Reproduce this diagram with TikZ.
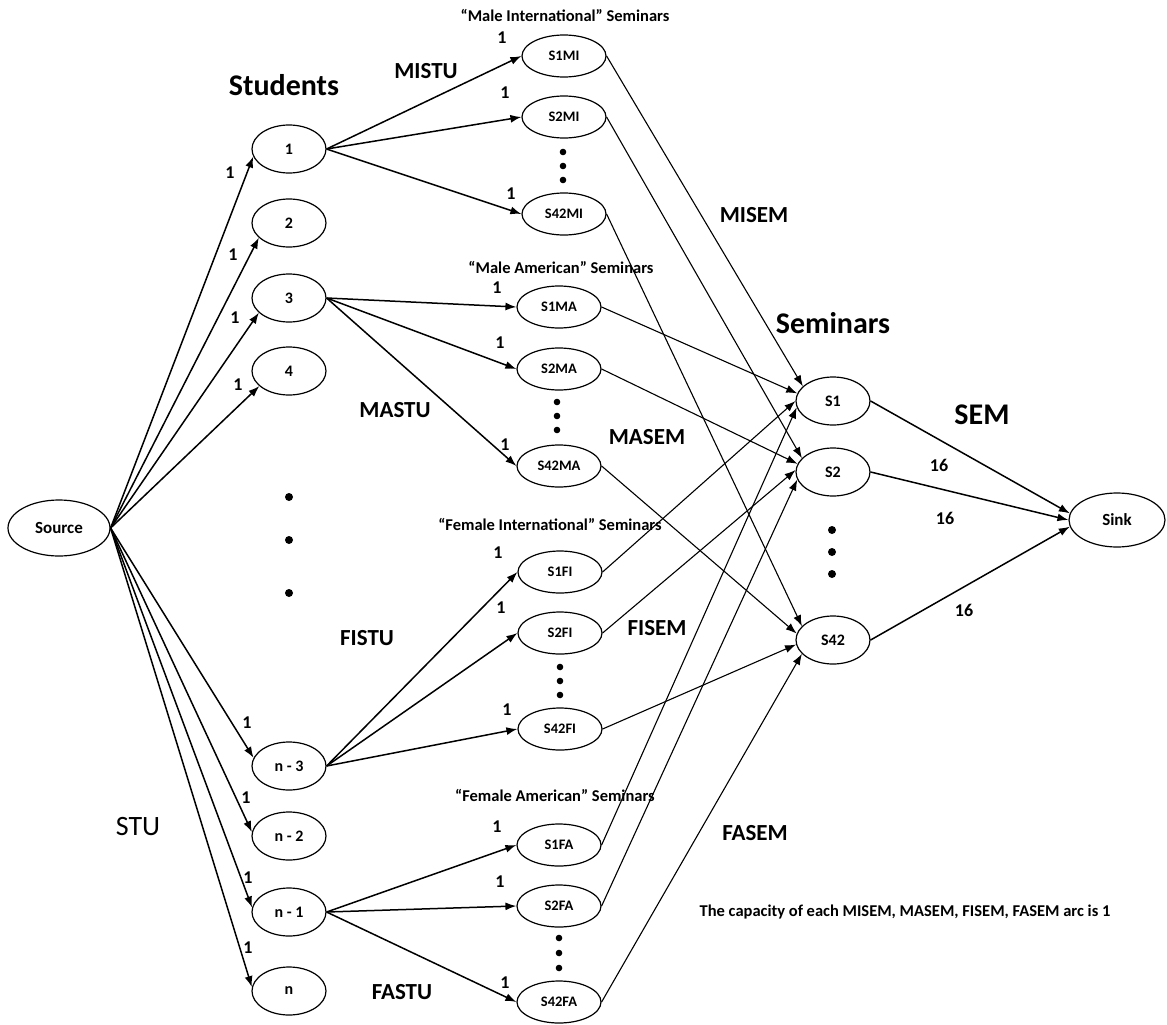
\documentclass[tikz,border=0pt]{standalone}
\usepackage{fontspec}
\setmainfont{Carlito}
\usetikzlibrary{shapes.geometric,arrows.meta}
\begin{document}
\begin{tikzpicture}[x=1pt,y=-1pt,
  stu/.style={ellipse,draw,line width=1.2pt,minimum width=74pt,minimum height=48pt,inner sep=0pt,font=\bfseries\fontsize{16}{16}\selectfont},
  cls/.style={ellipse,draw,line width=1.2pt,minimum width=84pt,minimum height=42pt,inner sep=0pt,font=\bfseries\fontsize{14.5}{14.5}\selectfont},
  endnode/.style={ellipse,draw,line width=1.2pt,inner sep=0pt,font=\bfseries\fontsize{17}{17}\selectfont},
  arr/.style={-{Latex[length=11pt,width=8pt]},line width=1.5pt},
  thinarr/.style={-{Latex[length=11pt,width=8pt]},line width=1.1pt},
  lab/.style={font=\bfseries\fontsize{18}{18}\selectfont,inner sep=0pt},
  big/.style={font=\bfseries\fontsize{30}{30}\selectfont,inner sep=0pt},
  mid/.style={font=\bfseries\fontsize{23}{23}\selectfont,inner sep=0pt},
  grp/.style={font=\bfseries\fontsize{16.5}{16.5}\selectfont,inner sep=0pt},
  dotsm/.style={fill=black},
]
\useasboundingbox (0,0) rectangle (1167,1025);

% nodes
\node[endnode,minimum width=102pt,minimum height=56pt] (src) at (59,528) {Source};
\node[stu] (n1) at (289,149) {1};
\node[stu] (n2) at (289,223) {2};
\node[stu] (n3) at (289,298) {3};
\node[stu] (n4) at (289,371) {4};
\node[stu] (nm3) at (289,766) {n - 3};
\node[stu] (nm2) at (289,836) {n - 2};
\node[stu] (nm1) at (289,912) {n - 1};
\node[stu] (nn) at (289,991) {n};

\node[cls] (s1mi) at (564,56) {S1MI};
\node[cls] (s2mi) at (564,117) {S2MI};
\node[cls] (s42mi) at (564,214) {S42MI};
\node[cls] (s1ma) at (559,307) {S1MA};
\node[cls] (s2ma) at (559,369) {S2MA};
\node[cls] (s42ma) at (559,466) {S42MA};
\node[cls] (s1fi) at (560,572) {S1FI};
\node[cls] (s2fi) at (560,633) {S2FI};
\node[cls] (s42fi) at (560,729) {S42FI};
\node[cls] (s1fa) at (559,845) {S1FA};
\node[cls] (s2fa) at (559,906) {S2FA};
\node[cls] (s42fa) at (559,1002) {S42FA};

\node[stu] (S1) at (833,401) {S1};
\node[stu] (S2) at (833,472) {S2};
\node[stu] (S42) at (833,640) {S42};
\node[endnode,minimum width=96pt,minimum height=54pt] (sink) at (1117,520) {Sink};

% dots
\foreach \y in {497,540,593} \fill (289,\y) circle (4pt);
\foreach \y in {152,166,180} \fill (563,\y) circle (3.3pt);
\foreach \y in {402,416,430} \fill (557,\y) circle (3.3pt);
\foreach \y in {667,681,695} \fill (560,\y) circle (3.3pt);
\foreach \y in {938,953,968} \fill (559,\y) circle (3.3pt);
\foreach \y in {530,552,574} \fill (832,\y) circle (4pt);

% source edges
\draw[arr] (src.east) -- (n1.192);
\draw[arr] (src.east) -- (n2.206);
\draw[arr] (src.east) -- (n3.206);
\draw[arr] (src.east) -- (n4.207);
\draw[arr] (src.east) -- (nm3.167);
\draw[arr] (src.east) -- (nm2.174);
\draw[arr] (src.east) -- (nm1.173);
\draw[arr] (src.east) -- (nn.174);
\foreach \p in {(230,173),(233,255),(235,318),(238,385),(247,723),(246,798),(248,878),(248,948)}
  \node[lab] at \p {1};

% students -> class seminars
\draw[arr] (n1.east) -- (s1mi.west);
\draw[arr] (n1.east) -- (s2mi.west);
\draw[arr] (n1.east) -- (s42mi.west);
\draw[arr] (n3.east) -- (s1ma.west);
\draw[arr] (n3.east) -- (s2ma.west);
\draw[arr] (n3.east) -- (s42ma.west);
\draw[arr] (nm3.east) -- (s1fi.west);
\draw[arr] (nm3.east) -- (s2fi.west);
\draw[arr] (nm3.east) -- (s42fi.west);
\draw[arr] (nm1.east) -- (s1fa.west);
\draw[arr] (nm1.east) -- (s2fa.west);
\draw[arr] (nm1.east) -- (s42fa.west);
\foreach \p in {(502,38),(505,93),(511,194),(497,288),(500,343),(505,445),(498,553),(501,608),(507,710),(497,827),(500,882),(505,983)}
  \node[lab] at \p {1};

% class seminars -> seminars
\draw[thinarr] (s1mi.east) -- (S1.154);
\draw[thinarr] (s2mi.east) -- (S2.156);
\draw[thinarr] (s42mi.east) -- (S42.156);
\draw[thinarr] (s1ma.east) -- (S1.168);
\draw[thinarr] (s2ma.east) -- (S2.167);
\draw[thinarr] (s42ma.east) -- (S42.170);
\draw[thinarr] (s1fi.east) -- (S1.180);
\draw[thinarr] (s2fi.east) -- (S2.177);
\draw[thinarr] (s42fi.east) -- (S42.187);
\draw[thinarr] (s1fa.east) -- (S1.190);
\draw[thinarr] (s2fa.east) -- (S2.192);
\draw[thinarr] (s42fa.east) -- (S42.204);

% seminars -> sink
\draw[arr] (S1.east) -- (sink.172);
\draw[arr] (S2.east) -- (sink.west);
\draw[arr] (S42.east) -- (sink.188);
\node[lab] at (939,465) {16};
\node[lab] at (945,518) {16};
\node[lab] at (964,610) {16};

% titles
\node[big] at (284,85) {Students};
\node[big] at (833,323) {Seminars};
\node[big] at (982,415) {SEM};
\node[mid] at (426,71) {MISTU};
\node[mid] at (395,410) {MASTU};
\node[mid] at (367,638) {FISTU};
\node[mid] at (402,992) {FASTU};
\node[mid] at (754,215) {MISEM};
\node[mid] at (647,437) {MASEM};
\node[mid] at (657,628) {FISEM};
\node[mid] at (755,833) {FASEM};
\node[font=\fontsize{28}{28}\selectfont,inner sep=0pt] at (138,827) {STU};
\node[grp] at (565,15) {“Male International” Seminars};
\node[grp] at (561,267) {“Male American” Seminars};
\node[grp] at (550,524) {“Female International” Seminars};
\node[grp] at (555,795) {“Female American” Seminars};
\node[grp] at (905,912) {The capacity of each MISEM, MASEM, FISEM, FASEM arc is 1};
\end{tikzpicture}
\end{document}
